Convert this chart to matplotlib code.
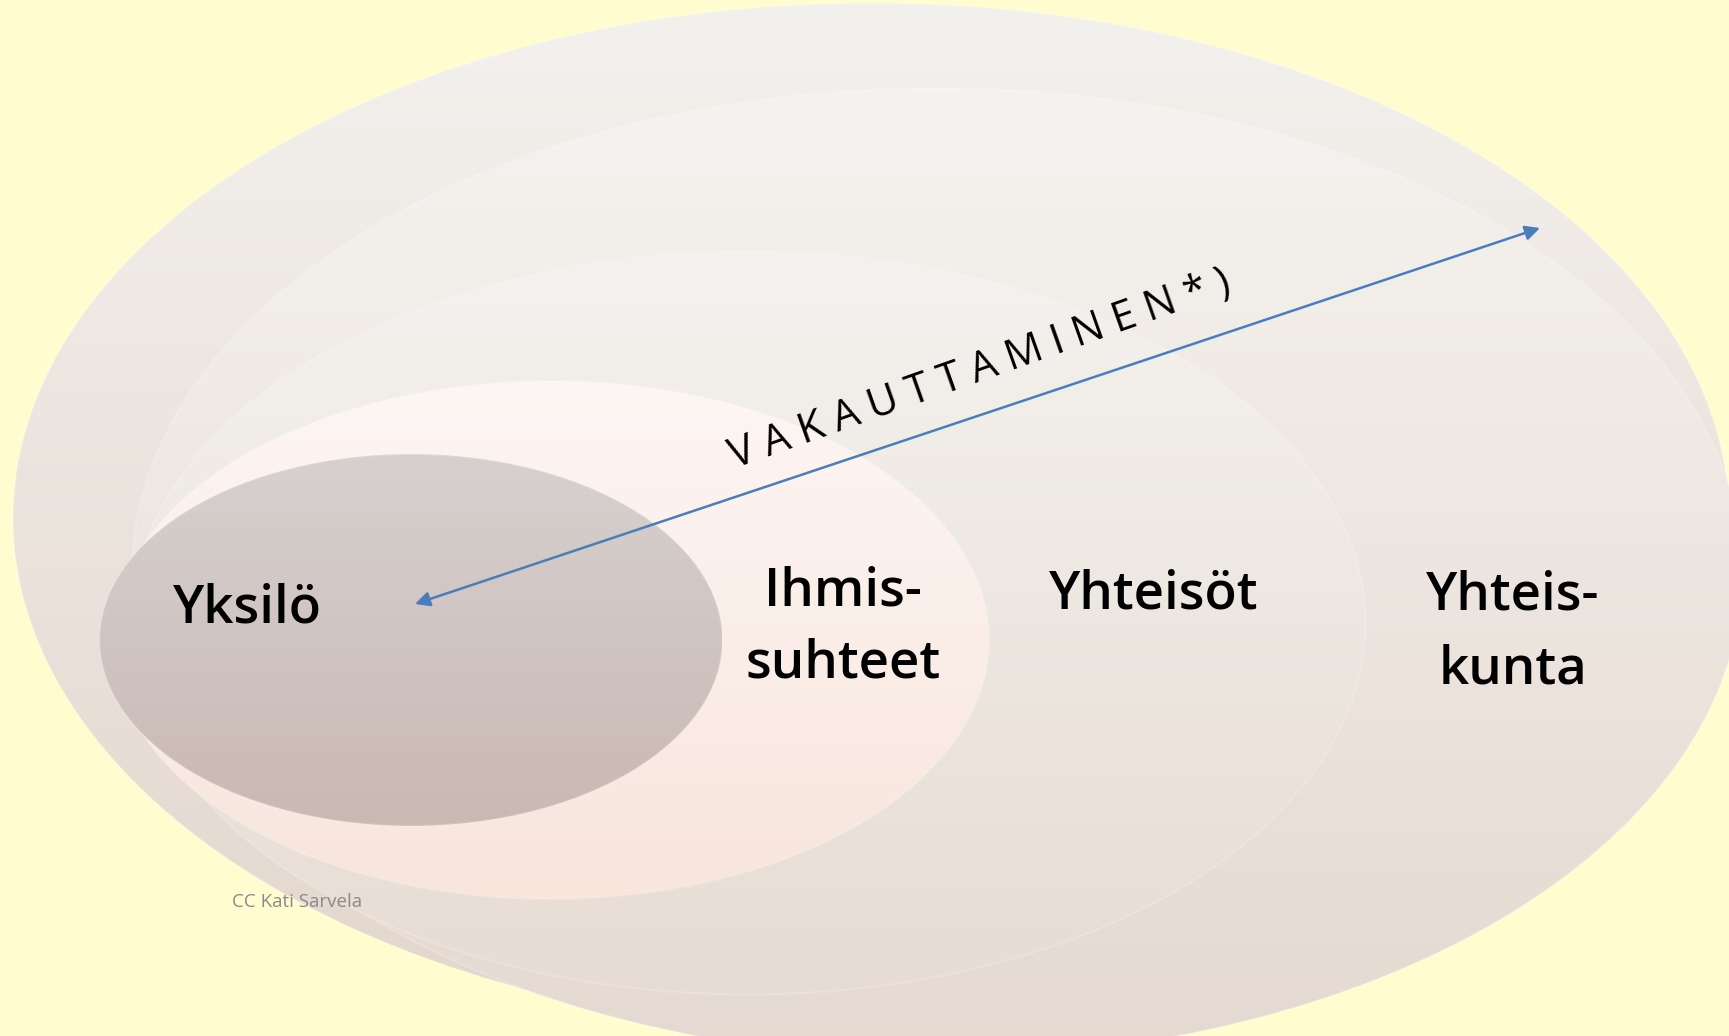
import numpy as np
import matplotlib.pyplot as plt
from matplotlib.patches import Ellipse
from matplotlib.colors import to_rgb

W, H = 1729, 1036
bg_color = "#FFFDD0"

# nested ellipses, outermost first (picture pixel coordinates)
shape_names = ["Yhteiskunta A", "Yhteiskunta B", "Yhteisöt", "Ihmissuhteet", "Yksilö"]
center_x = [871, 937, 748, 551, 411]
center_y = [518, 573, 623, 640, 640]
widths = [1716, 1610, 1235, 876, 623]
heights = [1030, 970, 743, 518, 372]
top_colors = ["#F3F1EE", "#F5F3F0", "#F4F2EF", "#FDF6F4", "#D6D1CF"]
bottom_colors = ["#E3D6CC", "#E5D9D0", "#E7DCD3", "#F8E5DC", "#CAB8B3"]

# labels
label_text = ["Yksilö", "Ihmis-\nsuhteet", "Yhteisöt", "Yhteis-\nkunta"]
label_x = [247, 843, 1154, 1513]
label_y = [609, 628, 595, 633]

arrow_start = (415, 604)
arrow_end = (1540, 228)
arrow_label = "V A K A U T T A M I N E N * )"
credit = "CC Kati Sarvela"

fig = plt.figure(figsize=(W / 100, H / 100), dpi=100)
fig.patch.set_facecolor(bg_color)
ax = fig.add_axes([0, 0, 1, 1])
ax.set_facecolor(bg_color)

for i in range(len(shape_names)):
    e = Ellipse((center_x[i], center_y[i]), widths[i], heights[i],
                facecolor="none", edgecolor="white", alpha=0.18, lw=1.5, zorder=i + 1.1)
    ax.add_patch(e)
    c0 = np.array(to_rgb(top_colors[i]))
    c1 = np.array(to_rgb(bottom_colors[i]))
    t = np.linspace(0, 1, 256)[:, None, None]
    grad = c0 * (1 - t) + c1 * t
    im = ax.imshow(grad, aspect="auto", origin="upper", zorder=i + 1,
                   extent=[center_x[i] - widths[i] / 2, center_x[i] + widths[i] / 2,
                           center_y[i] + heights[i] / 2, center_y[i] - heights[i] / 2])
    im.set_clip_path(e)

for txt, x, y in zip(label_text, label_x, label_y):
    ax.text(x, y, txt, ha="center", va="center", fontsize=38, color="black",
            family=["Open Sans", "DejaVu Sans"], fontweight="semibold", linespacing=1.5, zorder=10)

ax.annotate("", xy=arrow_end, xytext=arrow_start,
            arrowprops=dict(arrowstyle="<|-|>", color="#4A7EBB", lw=1.8,
                            mutation_scale=22, shrinkA=0, shrinkB=0), zorder=11)

ax.text(980, 370, arrow_label, rotation=19.5, rotation_mode="anchor",
        ha="center", va="center", fontsize=30, color="black",
        family=["Open Sans", "DejaVu Sans"], zorder=10)

ax.text(232, 902, credit, ha="left", va="center", fontsize=13.5, color="#8A8A8A",
        family=["Open Sans", "DejaVu Sans"], zorder=10)

ax.set_xlim(0, W)
ax.set_ylim(H, 0)
ax.axis("off")
fig.savefig("out.png", dpi=100, facecolor=bg_color)
